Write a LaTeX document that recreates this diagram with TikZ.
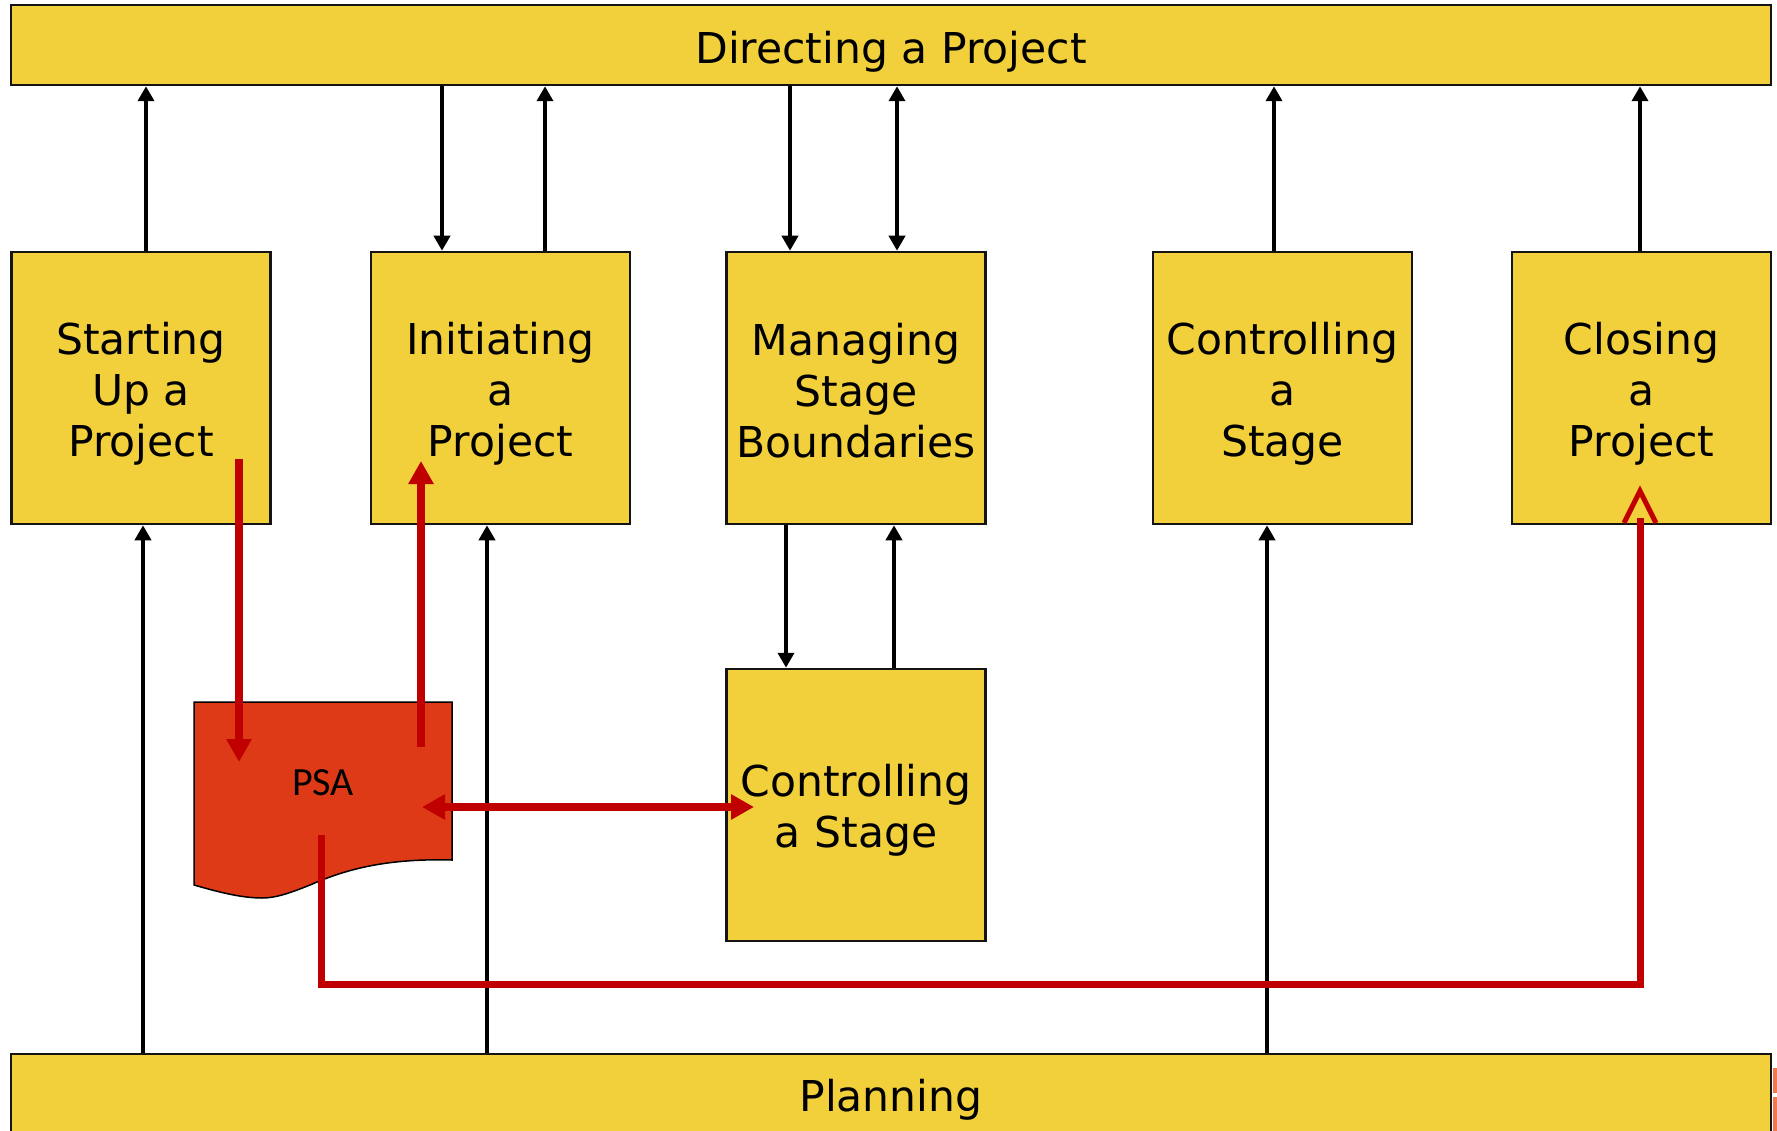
\documentclass[tikz,border=0pt]{standalone}
\usepackage{fontspec}
\setmainfont{DejaVu Sans}
\newfontfamily\docfont{Carlito}
\usetikzlibrary{arrows.meta}
\definecolor{boxyellow}{HTML}{F2D03C}
\definecolor{docred}{HTML}{DF3A18}
\definecolor{flowred}{HTML}{C00000}
\definecolor{edgeorange}{HTML}{EE7A4E}

\begin{document}
\begin{tikzpicture}[x=1pt,y=-1pt,
  procbox/.style={draw=black!92, fill=boxyellow, line width=2.5pt, inner sep=0pt},
  stagebox/.style={procbox, minimum width=259pt, minimum height=272pt},
  barbox/.style={procbox, minimum width=1760pt, minimum height=80pt},
  boxtext/.style={align=center, inner sep=0pt, font=\fontsize{42.5}{51}\selectfont},
  blktip/.tip={Triangle[width=16pt,length=15pt]},
  redtip/.tip={Triangle[width=24pt,length=23pt]},
  blk/.style={draw=black, line width=4pt, -blktip},
  blkboth/.style={draw=black, line width=4pt, blktip-blktip},
  redarr/.style={draw=flowred, line width=8pt, -redtip},
  redboth/.style={draw=flowred, line width=8pt, redtip-redtip},
  redroute/.style={draw=flowred, line width=7pt},
  chevron/.style={draw=flowred, line width=5pt}
]
\path[use as bounding box] (0,0) rectangle (1777,1131);
\clip (0,0) rectangle (1777,1131);
\fill[white] (0,0) rectangle (1777,1131);

% management and support bars
\node[barbox] (dir) at (891,45) {};
\node[barbox, minimum height=86pt] (pl) at (891,1097) {};

% process boxes
\node[stagebox] (su)  at (141,388)    {};
\node[stagebox] (ip)  at (500.5,388)  {};
\node[stagebox] (msb) at (856,388)    {};
\node[stagebox] (cs)  at (1282.5,388) {};
\node[stagebox] (cp)  at (1641.5,388) {};
\node[stagebox] (cs2) at (856,805)    {};

% box captions
\node[boxtext] (dirT) at ([yshift=-7pt]dir.center) {Directing a Project};
\node[boxtext] (plT)  at ([yshift=-3pt]pl.center)  {Planning};
\node[boxtext] (suT)  at ([yshift=-6pt]su.center)  {Starting\\Up a\\Project};
\node[boxtext] (ipT)  at ([yshift=-6pt]ip.center)  {Initiating\\a\\Project};
\node[boxtext] (msbT) at ([yshift=-3pt]msb.center) {Managing\\Stage\\Boundaries};
\node[boxtext] (csT)  at ([yshift=-6pt]cs.center)  {Controlling\\a\\Stage};
\node[boxtext] (cpT)  at ([yshift=-6pt]cp.center)  {Closing\\a\\Project};
\node[boxtext] (cs2T) at ([yshift=-5pt]cs2.center) {Controlling\\a Stage};

% cut-off shape at the right edge
\fill[edgeorange] (1773,1068) rectangle (1780,1093);
\fill[edgeorange] (1773,1097) rectangle (1780,1140);

% PSA document shape
\filldraw[fill=docred, draw=black, line width=1.5pt]
  (194,702) -- (452,702) -- (452,860)
  .. controls (380,858) and (340,872) .. (310,885)
  .. controls (290,893) and (276,898) .. (262,898)
  .. controls (240,898) and (215,891) .. (194,885) -- cycle;
\node[font=\docfont\fontsize{40}{48}\selectfont, inner sep=0pt] (psa) at (323,783) {PSA};

% black information flows
\draw[blk] ([xshift=5pt]su.north) -- ([xshift=5pt]su.north |- dir.south);
\draw[blk] ([xshift=-58.5pt]ip.north |- dir.south) -- ([xshift=-58.5pt]ip.north);
\draw[blk] ([xshift=44.5pt]ip.north) -- ([xshift=44.5pt]ip.north |- dir.south);
\draw[blk] ([xshift=-66pt]msb.north |- dir.south) -- ([xshift=-66pt]msb.north);
\draw[blkboth] ([xshift=41pt]msb.north) -- ([xshift=41pt]msb.north |- dir.south);
\draw[blk] ([xshift=-8.5pt]cs.north) -- ([xshift=-8.5pt]cs.north |- dir.south);
\draw[blk] ([xshift=-1.5pt]cp.north) -- ([xshift=-1.5pt]cp.north |- dir.south);
\draw[blk] ([xshift=-70pt]msb.south) -- ([xshift=-70pt]msb.south |- cs2.north);
\draw[blk] ([xshift=38pt]cs2.north) -- ([xshift=38pt]cs2.north |- msb.south);
\draw[blk] ([xshift=2pt]su.south |- pl.north) -- ([xshift=2pt]su.south);
\draw[blk] ([xshift=-13.5pt]ip.south |- pl.north) -- ([xshift=-13.5pt]ip.south);
\draw[blk] ([xshift=-15.5pt]cs.south |- pl.north) -- ([xshift=-15.5pt]cs.south);

% red PSA flows
\coordinate (suOut)   at (239,459);
\coordinate (psaIn)   at (239,762);
\coordinate (psaOut)  at (421,747);
\coordinate (ipIn)    at (421,461);
\coordinate (psaSide) at (422,807);
\coordinate (cs2In)   at (754,807);
\coordinate (psaBase) at (321,835);
\coordinate (route)   at (0,984);
\coordinate (cpTip)   at (1640,491);
\coordinate (cpShaft) at (1640,518);

\draw[redarr] (suOut) -- (psaIn);
\draw[redarr] (psaOut) -- (ipIn);
\draw[redboth] (psaSide) -- (cs2In);
\draw[redroute] (psaBase) -- (psaBase |- route) -- (cpShaft |- route) -- (cpShaft);
\draw[chevron] ([xshift=-16pt,yshift=-32pt]cpTip) -- (cpTip) -- ([xshift=16pt,yshift=-32pt]cpTip);
\end{tikzpicture}
\end{document}
